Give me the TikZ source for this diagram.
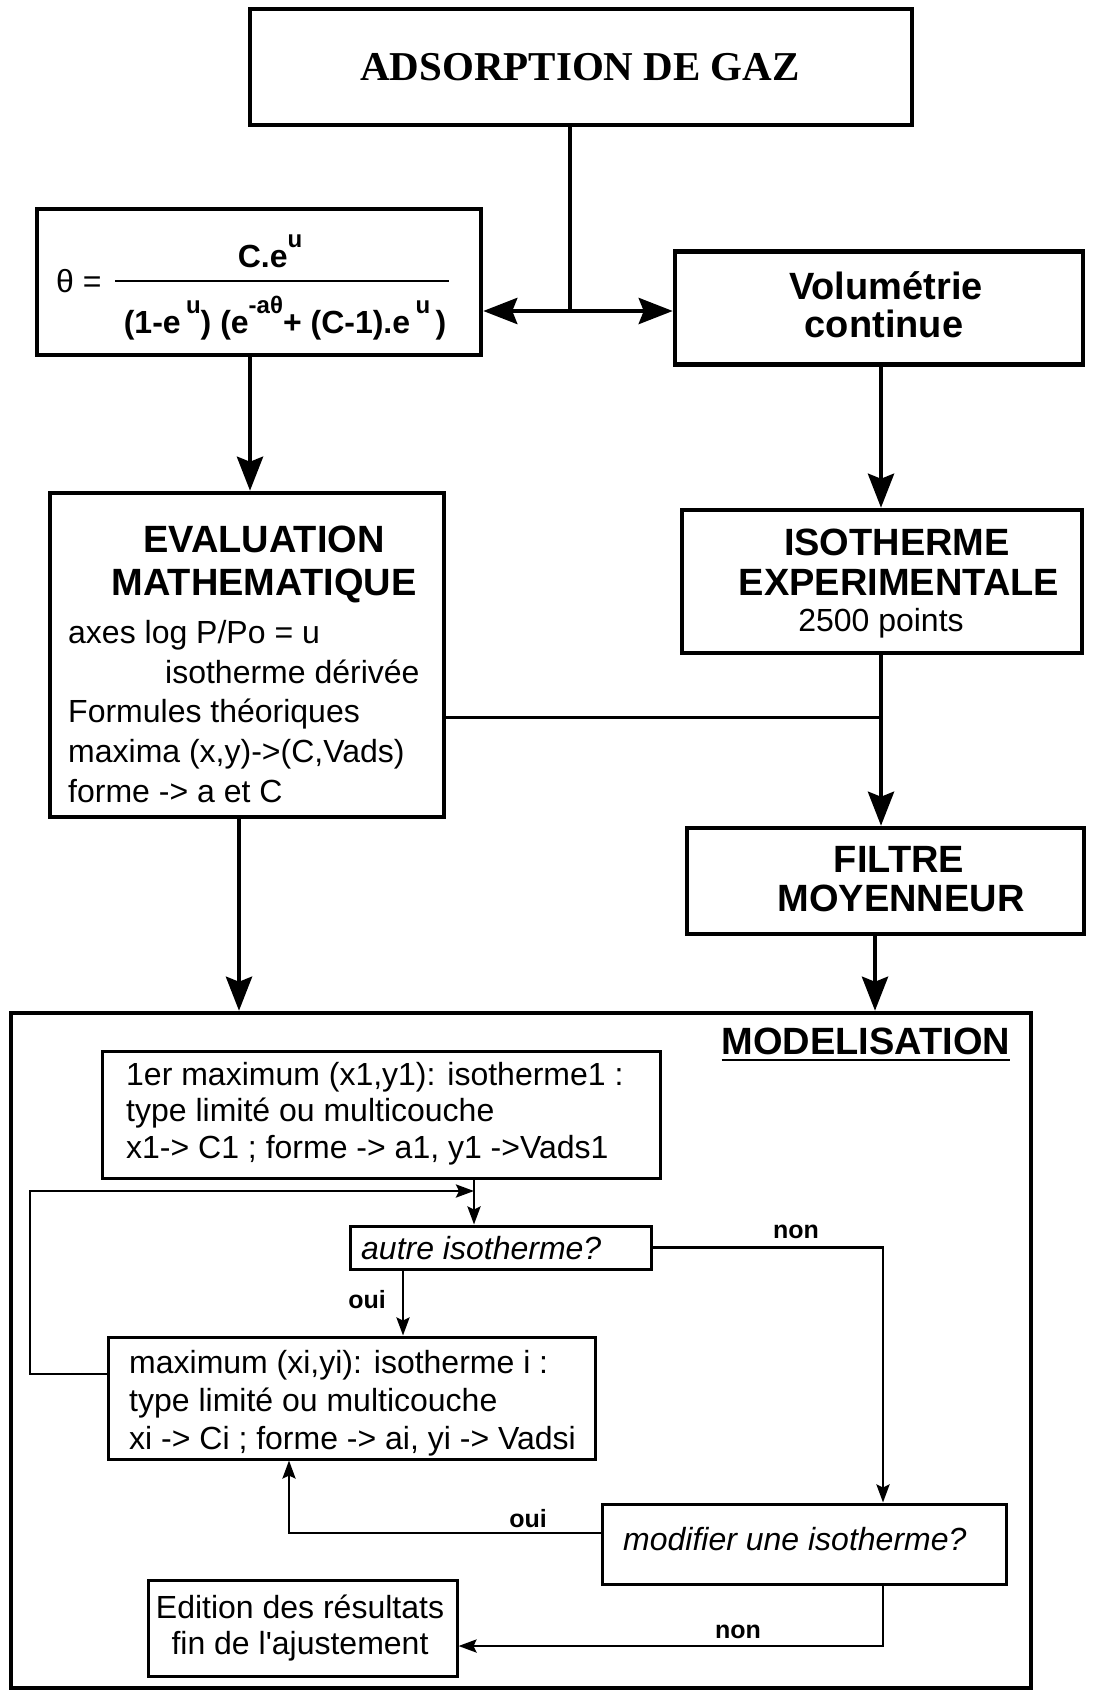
\documentclass[tikz,border=0pt]{standalone}
\usepackage{fontspec}
\setmainfont{Liberation Sans}
\newfontfamily\titlefont{Liberation Serif}
\usetikzlibrary{arrows.meta,calc}
\newcommand{\sps}[1]{\raisebox{0.6em}{\fontsize{24}{24}\selectfont #1}}
\begin{document}
\begin{tikzpicture}[x=1pt,y=-1pt,
  bigbox/.style={draw, line width=4.5pt, inner sep=0pt},
  smallbox/.style={draw, line width=3pt, inner sep=0pt},
  mainarrow/.style={line width=4.5pt, -{Stealth[length=34pt,width=26pt,inset=5pt]}},
  bothmain/.style={line width=4.5pt, {Stealth[length=34pt,width=26pt,inset=5pt]}-{Stealth[length=34pt,width=26pt,inset=5pt]}},
  thinarrow/.style={line width=2.8pt, -{Stealth[length=18pt,width=13pt,inset=3pt]}},
  hdr/.style={font=\fontsize{38}{40}\selectfont\bfseries, anchor=base, inner sep=0pt},
  body/.style={font=\fontsize{32}{37}\selectfont, anchor=base west, inner sep=0pt},
  lab/.style={font=\fontsize{25}{25}\selectfont\bfseries, anchor=base, inner sep=0pt},
]
\useasboundingbox (0,0) rectangle (1092,1691);

% ---------- boxes ----------
\node[bigbox, minimum width=662pt, minimum height=116pt] (ads) at (581,67) {};
\node[bigbox, minimum width=444pt, minimum height=146pt] (form) at (259,282) {};
\node[bigbox, minimum width=408pt, minimum height=113pt] (vol) at (879,308) {};
\node[bigbox, minimum width=394pt, minimum height=324pt] (eval) at (247,655) {};
\node[bigbox, minimum width=400pt, minimum height=143pt] (iso) at (882,581.5) {};
\node[bigbox, minimum width=397pt, minimum height=106pt] (filt) at (885.5,881) {};
\node[bigbox, minimum width=1020pt, minimum height=675pt] (model) at (521,1350.5) {};
\node[smallbox, minimum width=558pt, minimum height=127pt] (b1) at (381,1114.5) {};
\node[smallbox, minimum width=301pt, minimum height=43pt] (autre) at (500.5,1247.5) {};
\node[smallbox, minimum width=487pt, minimum height=122pt] (bi) at (351.5,1398) {};
\node[smallbox, minimum width=404pt, minimum height=80pt] (modif) at (804,1544) {};
\node[smallbox, minimum width=309pt, minimum height=96pt] (edit) at (302.5,1628) {};

% ---------- texts ----------
\node[font=\fontsize{41}{42}\selectfont\titlefont\bfseries, inner sep=0pt] (tads) at (580,67) {ADSORPTION DE GAZ};

\node[font=\fontsize{32}{32}\selectfont\bfseries, anchor=base, inner sep=0pt] (tnum) at (270,267) {C.e\sps{u}};
\node[font=\fontsize{32}{32}\selectfont\bfseries, anchor=base, inner sep=0pt] (tden) at (285,333) {(1-e\,\sps{u}) (e\sps{-aθ}+ (C-1).e\,\sps{u}\,)};
\node[font=\fontsize{32}{32}\selectfont, anchor=base west, inner sep=0pt] (ttheta) at (56,292) {θ =};
\coordinate (fl1) at (115,281);
\coordinate (fl2) at (449,281);
\draw[line width=2.5pt] (fl1) -- (fl2);

\node[hdr] (tvol1) at (886,299) {Volumétrie};
\node[hdr] (tvol2) at (884,337) {continue};

\node[hdr] (tev1) at (264,552) {EVALUATION};
\node[hdr] (tev2) at (264,595) {MATHEMATIQUE};
\node[body] (tev3) at (68,643) {axes log P/Po = u};
\node[body] (tev4) at (165,683) {isotherme dérivée};
\node[body] (tev5) at (68,722) {Formules théoriques};
\node[body] (tev6) at (68,762) {maxima (x,y)->(C,Vads)};
\node[body] (tev7) at (68,802) {forme -> a et C};

\node[hdr] (tiso1) at (897,555) {ISOTHERME};
\node[hdr] (tiso2) at (899,595) {EXPERIMENTALE};
\node[font=\fontsize{32}{32}\selectfont, anchor=base, inner sep=0pt] (tiso3) at (881,631) {2500 points};

\node[hdr] (tfil1) at (899,872) {FILTRE};
\node[hdr] (tfil2) at (901,911) {MOYENNEUR};

\node[hdr] (tmod) at (866,1054) {MODELISATION};
\draw[line width=2.5pt] ($(tmod.base west)+(0,6)$) -- ($(tmod.base east)+(0,6)$);

\node[body] (tb11) at (126,1085) {1er maximum (x1,y1): isotherme1 :};
\node[body] (tb12) at (126,1121) {type limité ou multicouche};
\node[body] (tb13) at (126,1158) {x1-> C1 ; forme -> a1, y1 ->Vads1};

\node[body, font=\fontsize{32}{37}\selectfont\itshape] (tautre) at (361,1259) {autre isotherme?};

\node[body] (tbi1) at (129,1373) {maximum (xi,yi): isotherme i :};
\node[body] (tbi2) at (129,1411) {type limité ou multicouche};
\node[body] (tbi3) at (129,1449) {xi -> Ci ; forme -> ai, yi -> Vadsi};

\node[body, font=\fontsize{32}{37}\selectfont\itshape] (tmodif) at (623,1550) {modifier une isotherme?};

\node[font=\fontsize{32}{36}\selectfont, align=center, inner sep=0pt] (tedit) at (300,1628) {Edition des résultats\\fin de l\textquotesingle ajustement};

\node[lab] (lnon1) at (796,1238) {non};
\node[lab] (loui1) at (367,1308) {oui};
\node[lab] (loui2) at (528,1527) {oui};
\node[lab] (lnon2) at (738,1638) {non};

% ---------- connectors ----------
\coordinate (J) at (570,311);
\draw[line width=4.5pt] (ads.south -| J) -- (J);
\draw[bothmain] (form.east |- J) -- (vol.west |- J);

\coordinate (c1) at (250,0);
\draw[mainarrow] (form.south -| c1) -- (eval.north -| c1);
\coordinate (c2) at (881,0);
\draw[mainarrow] (vol.south -| c2) -- (iso.north -| c2);
\coordinate (J2) at (881,717);
\draw[line width=3pt] (eval.east |- J2) -- (J2);
\draw[mainarrow] (iso.south -| c2) -- (filt.north -| c2);
\coordinate (c3) at (239,0);
\draw[mainarrow] (eval.south -| c3) -- (model.north -| c3);
\coordinate (c4) at (875,0);
\draw[mainarrow] (filt.south -| c4) -- (model.north -| c4);

\coordinate (c5) at (474,0);
\draw[thinarrow] (b1.south -| c5) -- (autre.north -| c5);
\coordinate (L1) at (30,1374);
\coordinate (L2) at (474,1191);
\draw[thinarrow] (bi.west |- L1) -- (L1) -- (L1 |- L2) -- (L2);

\coordinate (c6) at (883,0);
\draw[thinarrow] (autre.east) -- (autre.east -| c6) -- (modif.north -| c6);
\coordinate (c7) at (403,0);
\draw[thinarrow] (autre.south -| c7) -- (bi.north -| c7);
\coordinate (Y1) at (289,1533);
\draw[thinarrow] (modif.west |- Y1) -- (Y1) -- (bi.south -| Y1);
\coordinate (Y2) at (883,1646);
\draw[thinarrow] (modif.south -| Y2) -- (Y2) -- (edit.east |- Y2);
\end{tikzpicture}
\end{document}
